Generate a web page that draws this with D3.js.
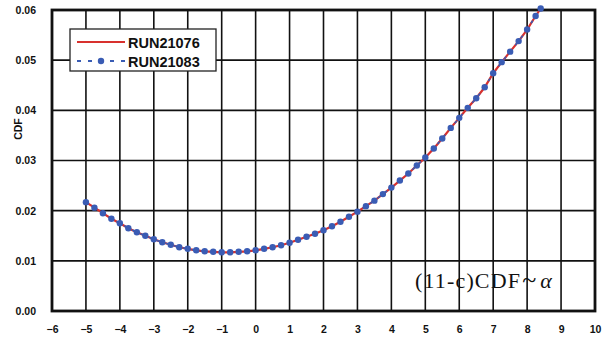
<!DOCTYPE html>
<html>
<head>
<meta charset="utf-8">
<script src="https://cdn.jsdelivr.net/npm/d3@7"></script>
<style>
  body { margin: 0; background: #fff; }
  svg { display: block; }
</style>
</head>
<body>
<svg id="chart" width="607" height="340"></svg>
<script>
// values
const alpha = [-5, -4.75, -4.5, -4.25, -4, -3.75, -3.5, -3.25, -3, -2.75, -2.5, -2.25, -2, -1.75, -1.5, -1.25, -1, -0.75, -0.5, -0.25,
  0, 0.25, 0.5, 0.75, 1, 1.25, 1.5, 1.75, 2, 2.25, 2.5, 2.75, 3, 3.25, 3.5, 3.75, 4, 4.25, 4.5, 4.75,
  5, 5.25, 5.5, 5.75, 6, 6.25, 6.5, 6.75, 7, 7.25, 7.5, 7.75, 8, 8.25, 8.4];
const run21076 = [0.0217, 0.0206, 0.0195, 0.0184, 0.0175, 0.0165, 0.0157, 0.0150, 0.0143, 0.0137, 0.0132, 0.0127, 0.0124, 0.0121, 0.0119, 0.0118, 0.0117, 0.0117, 0.0118, 0.0119,
  0.0121, 0.0124, 0.0127, 0.0131, 0.0136, 0.0142, 0.0148, 0.0154, 0.0161, 0.0169, 0.0178, 0.0188, 0.0198, 0.0209, 0.0220, 0.0233, 0.0246, 0.0260, 0.0274, 0.0290,
  0.0306, 0.0324, 0.0344, 0.0365, 0.0385, 0.0405, 0.0424, 0.0446, 0.0474, 0.0496, 0.0517, 0.0538, 0.0561, 0.0588, 0.0603];
const run21083 = run21076.slice();
const xTicks = [-6, -5, -4, -3, -2, -1, 0, 1, 2, 3, 4, 5, 6, 7, 8, 9, 10];
const yTicks = [0, 0.01, 0.02, 0.03, 0.04, 0.05, 0.06];
const seriesNames = ["RUN21076", "RUN21083"];

const svg = d3.select("svg#chart");
const x = d3.scaleLinear().domain([-6, 10]).range([52, 595]);
const y = d3.scaleLinear().domain([0, 0.06]).range([311, 10]);

const red = "#d8312e", blue = "#3a5cb4";

// grid
const grid = svg.append("g").attr("stroke", "#111").attr("stroke-width", 1.6);
grid.selectAll("line.v").data(xTicks).join("line")
    .attr("class", "v")
    .attr("x1", d => x(d)).attr("x2", d => x(d))
    .attr("y1", y(0)).attr("y2", y(0.06));
grid.selectAll("line.h").data(yTicks).join("line")
    .attr("class", "h")
    .attr("x1", x(-6)).attr("x2", x(10))
    .attr("y1", d => y(d)).attr("y2", d => y(d));

// frame
svg.append("rect")
    .attr("x", x(-6)).attr("y", y(0.06))
    .attr("width", x(10) - x(-6)).attr("height", y(0) - y(0.06))
    .attr("fill", "none").attr("stroke", "#111").attr("stroke-width", 2.8);

// axes labels
const xAxis = svg.append("g").attr("transform", `translate(0,${y(0)})`)
    .call(d3.axisBottom(x).tickValues(xTicks).tickSize(0).tickPadding(15)
        .tickFormat(d => d < 0 ? "\u2212" + Math.abs(d) : d));
const yAxis = svg.append("g").attr("transform", `translate(${x(-6)},0)`)
    .call(d3.axisLeft(y).tickValues(yTicks).tickSize(0).tickPadding(16).tickFormat(d3.format(".2f")));
[xAxis, yAxis].forEach(a => {
    a.select(".domain").remove();
    a.selectAll("text")
        .attr("font-family", "Liberation Sans, Arial, sans-serif")
        .attr("font-weight", "bold")
        .attr("font-size", 10.5)
        .attr("fill", "#111");
});

svg.append("text")
    .attr("transform", "translate(22,129) rotate(-90)")
    .attr("text-anchor", "middle")
    .attr("font-family", "Liberation Sans, Arial, sans-serif")
    .attr("font-weight", "bold")
    .attr("font-size", 10.5)
    .attr("fill", "#111")
    .text("CDF");

// series
const pts = alpha.map((a, i) => ({ a, v1: run21076[i], v2: run21083[i] }));
svg.append("path")
    .datum(pts)
    .attr("fill", "none").attr("stroke", red).attr("stroke-width", 2.2)
    .attr("d", d3.line().x(d => x(d.a)).y(d => y(d.v1)));
svg.append("path")
    .datum(pts)
    .attr("fill", "none").attr("stroke", blue).attr("stroke-width", 1.6)
    .attr("stroke-dasharray", "3,6")
    .attr("d", d3.line().x(d => x(d.a)).y(d => y(d.v2)));
svg.append("g").selectAll("circle").data(pts).join("circle")
    .attr("cx", d => x(d.a)).attr("cy", d => y(d.v2))
    .attr("r", 3.2).attr("fill", blue);

// legend
const lg = svg.append("g");
lg.append("rect").attr("x", 70).attr("y", 29).attr("width", 146).attr("height", 42)
    .attr("fill", "#fff").attr("stroke", "#222").attr("stroke-width", 1.3);
lg.append("line").attr("x1", 77).attr("x2", 125).attr("y1", 42).attr("y2", 42)
    .attr("stroke", red).attr("stroke-width", 2.2);
lg.append("line").attr("x1", 77).attr("x2", 125).attr("y1", 61).attr("y2", 61)
    .attr("stroke", blue).attr("stroke-width", 1.8).attr("stroke-dasharray", "4,7");
lg.append("circle").attr("cx", 101).attr("cy", 61).attr("r", 3.2).attr("fill", blue);
lg.selectAll("text").data(seriesNames).join("text")
    .attr("x", 128).attr("y", (d, i) => 48 + i * 19)
    .attr("font-family", "Liberation Sans, Arial, sans-serif")
    .attr("font-weight", "bold")
    .attr("font-size", 14.5)
    .attr("fill", "#111")
    .text(d => d);

// annotation
const ann = svg.append("text")
    .attr("x", 415).attr("y", 288)
    .attr("font-family", "Liberation Serif, Times New Roman, serif")
    .attr("font-size", 22)
    .attr("fill", "#111");
ann.append("tspan").attr("textLength", 105).attr("lengthAdjust", "spacing").text("(11-c)CDF");
ann.append("tspan").attr("font-size", 26).attr("dx", 1).text("~");
ann.append("tspan").attr("font-style", "italic").attr("dx", 4).text("\u03b1");
</script>
</body>
</html>
